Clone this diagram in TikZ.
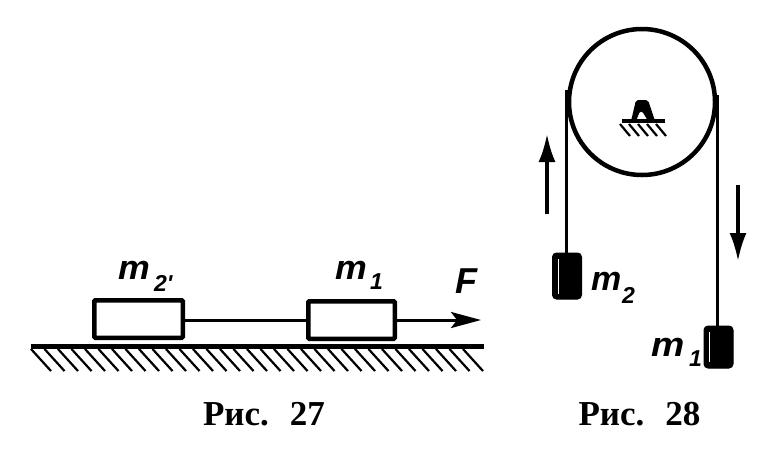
\documentclass[tikz,border=0pt]{standalone}
\usepackage{fontspec}
\setmainfont{Liberation Serif}
\newfontfamily\lblfont{Liberation Sans}
\usetikzlibrary{arrows.meta}
\tikzset{
  block/.style={draw=black,line width=4.5pt,fill=white,rounded corners=1pt,minimum width=#1,minimum height=37.5pt,inner sep=0pt,outer sep=2.2pt},
  weight/.style={draw=black,fill=black,line width=1pt,rounded corners=4pt,inner sep=0pt},
  rope/.style={line width=3pt},
  hatch/.style={line width=2.2pt},
  massm/.style={font=\lblfont\itshape\bfseries\fontsize{34}{34}\selectfont,inner sep=0pt,anchor=base west},
  masssub/.style={font=\lblfont\itshape\bfseries\fontsize{23}{23}\selectfont,inner sep=0pt,anchor=base west},
  caption/.style={font=\bfseries\fontsize{35}{35}\selectfont,inner sep=0pt,anchor=base},
  motion/.style={line width=3.2pt,-{Latex[length=28pt,width=17pt]}},
  forcearrow/.style={line width=3pt,-{Stealth[length=30pt,width=16pt,inset=6pt]}}
}
\begin{document}
\begin{tikzpicture}[x=1pt,y=-1pt]
\useasboundingbox (0,0) rectangle (759,448);
% Fig. 27
\draw[line width=5pt] (31,346) -- (484,346);
\foreach \x in {31,44.5,...,465}{\draw[hatch] (\x,349) -- (\x+20,371);}
\node[block=88.5pt] (bb) at (138.5,319) {};
\node[block=86.5pt] (ba) at (351.5,320) {};
\coordinate (fend) at (481,320);
\draw[rope] (bb.east |- ba.west) -- (ba.west);
\draw[forcearrow] (ba.east) -- (fend);
\node[massm] (m2a) at (118,279) {\scalebox{1.05}[1]{m}};
\node[masssub] (m2b) at (154,291) {2'};
\node[massm] (m1a) at (335,279) {\scalebox{1.05}[1]{m}};
\node[masssub] (m1b) at (370,289) {1};
\node[font=\lblfont\itshape\bfseries\fontsize{36}{36}\selectfont,inner sep=0pt,anchor=base west] (fl) at (455,293) {F};
\node[caption] (c27) at (264,425) {Рис.\hspace{0.6em}27};
% Fig. 28
\node[circle,draw=black,line width=4.5pt,minimum size=146pt,inner sep=0pt,outer sep=0pt] (pulley) at (642,102) {};
\node[weight,minimum width=29pt,minimum height=46pt] (w2) at (567,276) {};
\node[weight,minimum width=29pt,minimum height=42pt] (w1) at (718.5,347) {};
\draw[draw=white,line width=1pt] (558,259) -- (558,294);
\draw[draw=white,line width=1pt] (709,332) -- (709,362);
\draw[rope] ([xshift=-2.5pt]pulley.west |- 0,90) -- ([xshift=-2.5pt]w2.north -| pulley.west);
\draw[rope] ([xshift=2.5pt]pulley.east |- 0,95) -- ([xshift=2.5pt]w1.north -| pulley.east);
% support
\fill[rounded corners=2pt] (631,121) -- (636,100) -- (648,100) -- (655,121) -- (648,121) -- (642,111) -- (640,111) -- (636,121) -- cycle;
\draw[line width=4pt] (622,121) -- (665,121);
\foreach \x in {620,629,638,647,656}{\draw[line width=2.2pt] (\x,124) -- (\x+10,136);}
% motion arrows
\coordinate (up1) at (547,214); \coordinate (up2) at (547,134);
\coordinate (dn1) at (738,185); \coordinate (dn2) at (738,261);
\draw[motion] (up1) -- (up2);
\draw[motion] (dn1) -- (dn2);
\node[massm] (m2c) at (591,290) {m};
\node[masssub] (m2d) at (622,303) {2};
\node[massm] (m1c) at (651,356) {\scalebox{1.1}[1]{m}};
\node[masssub] (m1d) at (689,366) {1};
\node[caption] (c28) at (639.5,425) {Рис.\hspace{0.6em}28};
\end{tikzpicture}
\end{document}
